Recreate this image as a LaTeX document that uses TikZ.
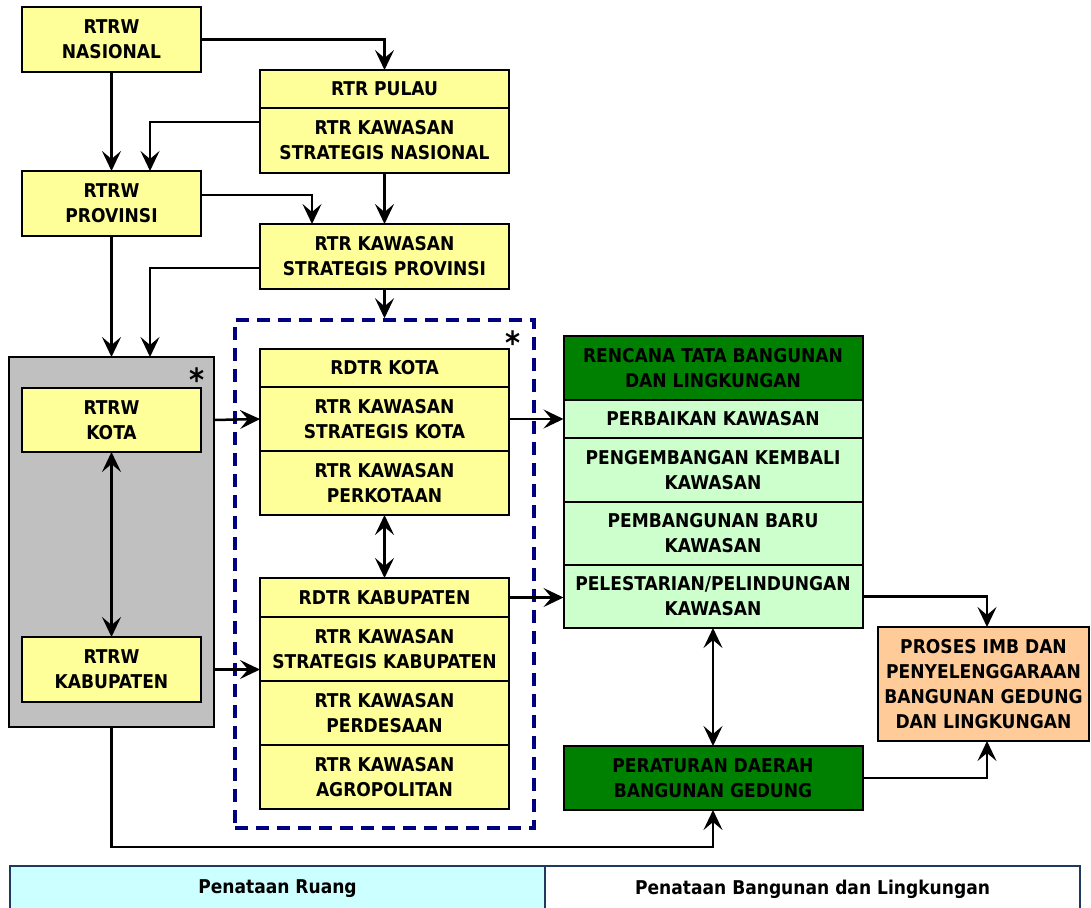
\documentclass[tikz,border=0pt]{standalone}
\usepackage{fontspec}
\setmainfont{DejaVu Sans Condensed}
\usepackage{xcolor}
\usetikzlibrary{arrows.meta, positioning}
\definecolor{cYellow}{HTML}{FFFF99}
\definecolor{cLightGreen}{HTML}{CCFFCC}
\definecolor{cDarkGreen}{HTML}{008000}
\definecolor{cGrey}{HTML}{C0C0C0}
\definecolor{cPeach}{HTML}{FFCC99}
\definecolor{cCyan}{HTML}{CCFFFF}
\definecolor{cNavy}{HTML}{000080}
\definecolor{cTabLine}{HTML}{1F3A5F}
\tikzstyle{fBox} = [rectangle, draw=black, line width=2pt, inner sep=0pt, outer sep=0pt, align=center, font=\bfseries\fontsize{19}{25}\selectfont]
\tikzstyle{fPlan} = [fBox, fill=cYellow, minimum width=249pt]
\tikzstyle{fHead} = [fBox, fill=cDarkGreen, minimum width=299pt]
\tikzstyle{fLight} = [fBox, fill=cLightGreen, minimum width=299pt]
\tikzstyle{fTab} = [fBox, draw=cTabLine, line width=1.5pt, minimum width=535pt, minimum height=46pt]
\tikzstyle{fStar} = [inner sep=0pt, font=\bfseries\fontsize{32}{32}\selectfont]
\tikzstyle{fArrow} = [line width=2.5pt, -{Stealth[length=20pt, width=19pt, inset=8pt]}]
\tikzstyle{fBiArrow} = [line width=2.5pt, {Stealth[length=20pt, width=19pt, inset=8pt]}-{Stealth[length=20pt, width=19pt, inset=8pt]}]

\begin{document}
\begin{tikzpicture}[x=1pt, y=-1pt]
    \useasboundingbox (0,0) rectangle (1091,907);
    % national and provincial level
    \node (nasional) [fPlan, minimum width=179pt, minimum height=65pt] at (111.5,39.5) {RTRW\\NASIONAL};
    \node (pulau) [fPlan, minimum height=38pt, anchor=north] at (384.5,70) {RTR PULAU};
    \node (ksn) [fPlan, minimum height=65pt, below=0pt of pulau] {RTR KAWASAN\\STRATEGIS NASIONAL};
    \node (provinsi) [fPlan, minimum width=179pt, minimum height=65pt] at (111.5,203.5) {RTRW\\PROVINSI};
    \node (ksp) [fPlan, minimum height=65pt] at (384.5,256.5) {RTR KAWASAN\\STRATEGIS PROVINSI};

    % city and regency level
    \node (rtrwFrame) [fBox, fill=cGrey, minimum width=205pt, minimum height=370pt] at (111.5,542) {};
    \node (rtrwKota) [fPlan, minimum width=179pt, minimum height=64pt] at (111.5,420) {RTRW\\KOTA};
    \node (rtrwKab) [fPlan, minimum width=179pt, minimum height=65pt] at (111.5,669.5) {RTRW\\KABUPATEN};
    \node (starFrame) [fStar] at (197,380) {*};

    \node (rdtrFrame) [draw=cNavy, line width=3.5pt, dash pattern=on 13pt off 8pt, minimum width=299pt, minimum height=508pt] at (384.5,574) {};
    \node (starRdtr) [fStar] at (513,343) {*};
    \node (rdtrKota) [fPlan, minimum height=38pt, anchor=north] at (384.5,349) {RDTR KOTA};
    \node (ksk) [fPlan, minimum height=64pt, below=0pt of rdtrKota] {RTR KAWASAN\\STRATEGIS KOTA};
    \node (perkotaan) [fPlan, minimum height=64pt, below=0pt of ksk] {RTR KAWASAN\\PERKOTAAN};
    \node (rdtrKab) [fPlan, minimum height=39pt, anchor=north] at (384.5,578) {RDTR KABUPATEN};
    \node (kskab) [fPlan, minimum height=64pt, below=0pt of rdtrKab] {RTR KAWASAN\\STRATEGIS KABUPATEN};
    \node (perdesaan) [fPlan, minimum height=64pt, below=0pt of kskab] {RTR KAWASAN\\PERDESAAN};
    \node (agropolitan) [fPlan, minimum height=64pt, below=0pt of perdesaan] {RTR KAWASAN\\AGROPOLITAN};

    % building and environment
    \node (rtbl) [fHead, minimum height=64pt, anchor=north] at (713,336) {RENCANA TATA BANGUNAN\\DAN LINGKUNGAN};
    \node (perbaikan) [fLight, minimum height=38pt, below=0pt of rtbl] {PERBAIKAN KAWASAN};
    \node (pengembangan) [fLight, minimum height=64pt, below=0pt of perbaikan] {PENGEMBANGAN KEMBALI\\KAWASAN};
    \node (pembangunan) [fLight, minimum height=63pt, below=0pt of pengembangan] {PEMBANGUNAN BARU\\KAWASAN};
    \node (pelestarian) [fLight, minimum height=63pt, below=0pt of pembangunan] {PELESTARIAN/PELINDUNGAN\\KAWASAN};
    \node (proses) [fBox, fill=cPeach, minimum width=211pt, minimum height=114pt] at (983.5,684) {PROSES IMB DAN\\PENYELENGGARAAN\\BANGUNAN GEDUNG\\DAN LINGKUNGAN};
    \node (perda) [fHead, minimum height=64pt] at (713,778) {PERATURAN DAERAH\\BANGUNAN GEDUNG};

    % legend
    \node (tabRuang) [fTab, fill=cCyan, anchor=north west] at (10,866) {Penataan Ruang};
    \node (tabBangunan) [fTab, fill=white, right=0pt of tabRuang] {Penataan Bangunan dan Lingkungan};

    \draw [fArrow] (nasional.east) -| (pulau.north);
    \draw [fArrow] (nasional) -- (provinsi);
    \draw [fArrow] ([yshift=18.5pt]ksn.west) -| ([xshift=38.5pt]provinsi.north);
    \draw [fArrow] ([yshift=8.5pt]provinsi.east) -| ([xshift=-72.5pt]ksp.north);
    \draw [fArrow] (ksn) -- (ksp);
    \draw [fArrow] (provinsi) -- (rtrwFrame);
    \draw [fArrow] ([yshift=-11.5pt]ksp.west) -| ([xshift=38.5pt]rtrwFrame.north);
    \draw [fArrow] (ksp) -- (rdtrFrame);
    \draw [fArrow] (rtrwKota.east -| rtrwFrame.east) -- (ksk.west);
    \draw [fBiArrow] (rtrwKota) -- (rtrwKab);
    \draw [fArrow] (rtrwKab.east -| rtrwFrame.east) -- (rtrwKab.east -| kskab.west);
    \draw [fBiArrow] (perkotaan) -- (rdtrKab);
    \draw [fArrow] (ksk.east) -- (ksk.east -| perbaikan.west);
    \draw [fArrow] (rdtrKab.east) -- (rdtrKab.east -| pelestarian.west);
    \draw [fArrow] (pelestarian.east) -| ([xshift=3.5pt]proses.north);
    \draw [fBiArrow] (pelestarian) -- (perda);
    \draw [fArrow] (perda.east) -| ([xshift=3.5pt]proses.south);
    \draw [fArrow] (rtrwFrame.south) -- ++(0,120) -| (perda.south);
\end{tikzpicture}
\end{document}
